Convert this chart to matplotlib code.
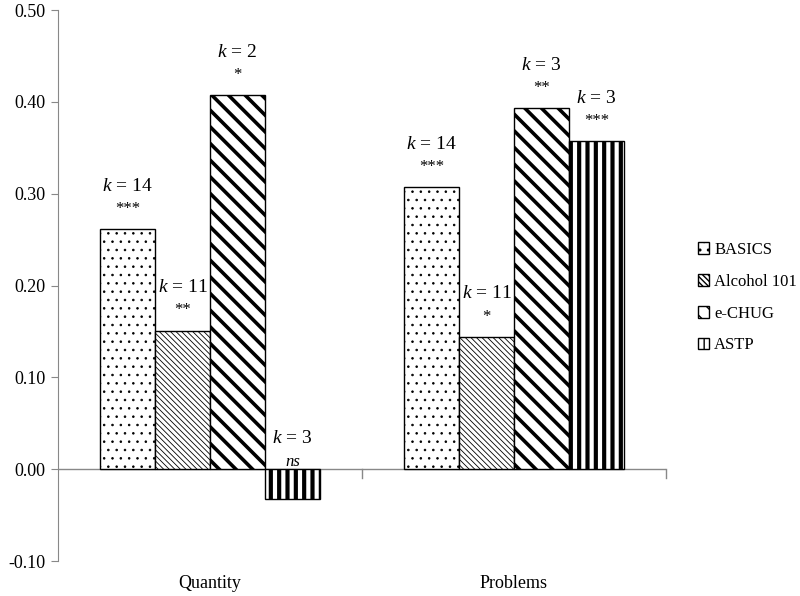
import matplotlib.pyplot as plt
import numpy as np

plt.rcParams['font.family'] = ['Liberation Serif', 'DejaVu Serif']
plt.rcParams['mathtext.fontset'] = 'custom'
plt.rcParams['mathtext.it'] = 'Liberation Serif:italic'
plt.rcParams['mathtext.rm'] = 'Liberation Serif'

categories = ['Quantity', 'Problems']
programs = ['BASICS', 'Alcohol 101', 'e-CHUG', 'ASTP']
values = {
    'BASICS': [0.261, 0.307],
    'Alcohol 101': [0.151, 0.144],
    'e-CHUG': [0.407, 0.393],
    'ASTP': [-0.033, 0.357],
}
k_labels = {
    'BASICS': ['14', '14'],
    'Alcohol 101': ['11', '11'],
    'e-CHUG': ['2', '3'],
    'ASTP': ['3', '3'],
}
sig_labels = {
    'BASICS': ['***', '***'],
    'Alcohol 101': ['**', '*'],
    'e-CHUG': ['*', '**'],
    'ASTP': ['ns', '***'],
}
hatches = ['..', '\\\\\\\\\\\\', '\\\\', '||']
hatch_lw = [0.6, 0.6, 2.6, 3.0]
yticks = [-0.10, 0.00, 0.10, 0.20, 0.30, 0.40, 0.50]

fig = plt.figure(figsize=(8, 5.96), dpi=100)
ax = fig.add_axes([0.0725, 0.0587, 0.76, 0.9245])

x = np.arange(len(categories))
w = 0.181
for i, p in enumerate(programs):
    pos = x + (i - 1.5) * w
    bars = ax.bar(pos, values[p], width=w, color='white', edgecolor='black',
                  linewidth=1.0, hatch=hatches[i], label=p, zorder=2)
    for b in bars:
        if hasattr(b, 'set_hatch_linewidth'):
            b.set_hatch_linewidth(hatch_lw[i])
    for j, v in enumerate(values[p]):
        top = v if v > 0 else -0.014
        sig = sig_labels[p][j]
        ax.text(pos[j], top + 0.022, sig, ha='center', va='center',
                fontsize=12, style='italic' if sig == 'ns' else 'normal')
        ax.text(pos[j], top + 0.047, '$k$ = ' + k_labels[p][j], ha='center',
                va='center', fontsize=14)

ax.set_xlim(-0.5, 1.5)
ax.set_ylim(-0.10, 0.50)
ax.set_yticks(yticks)
ax.set_yticklabels(['%.2f' % t for t in yticks], fontsize=13)
ax.tick_params(axis='y', direction='out', length=5, color='#888888', pad=4)

ax.axhline(0, color='#888888', linewidth=1.0, zorder=1)
for xt in [0.5, 1.5]:
    ax.plot([xt, xt], [0, -0.01], color='#888888', linewidth=1.0, clip_on=False)

ax.set_xticks([])
for j, c in enumerate(categories):
    ax.text(x[j], -0.124, c, ha='center', va='center', fontsize=13,
            clip_on=False)

for s in ['top', 'right', 'bottom']:
    ax.spines[s].set_visible(False)
ax.spines['left'].set_color('#888888')

leg = ax.legend(loc='center left', bbox_to_anchor=(1.052, 0.478), frameon=False,
                fontsize=12, handlelength=0.7, handleheight=0.7,
                handletextpad=0.3, labelspacing=0.95, borderpad=0,
                borderaxespad=0)

fig.savefig('out.png', dpi=100)
